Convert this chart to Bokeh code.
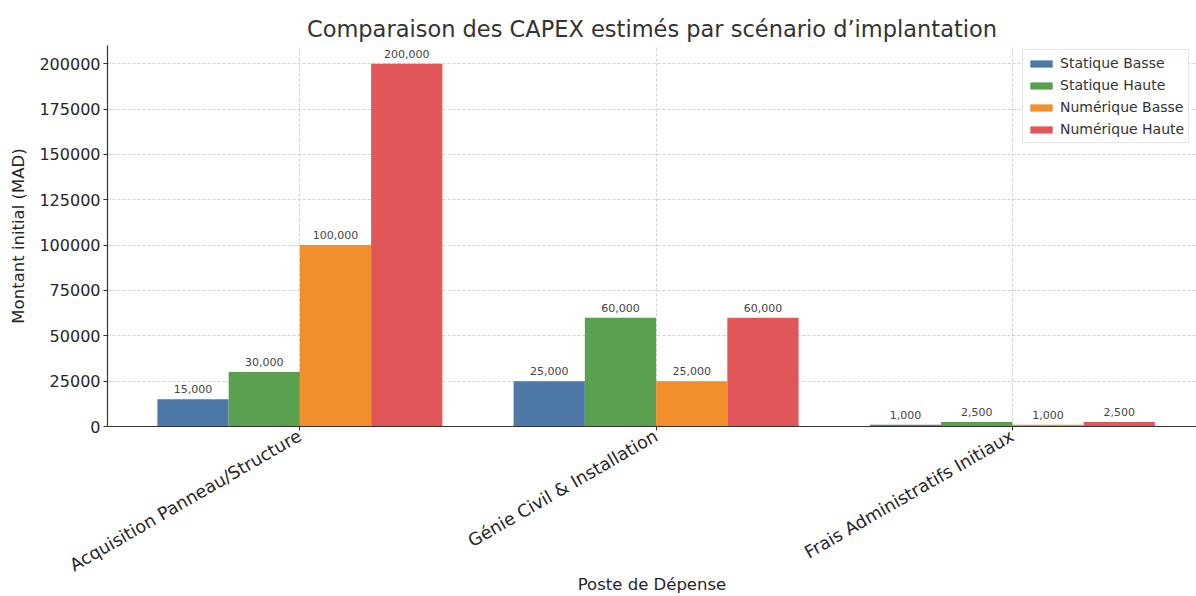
from bokeh.plotting import figure
from bokeh.models import ColumnDataSource, FixedTicker, BasicTickFormatter, Legend, LegendItem, Range1d
from bokeh.core.properties import value
from bokeh.embed import file_html
from bokeh.resources import INLINE
import math

categories = ["Acquisition Panneau/Structure", "Génie Civil & Installation", "Frais Administratifs Initiaux"]
series_names = ["Statique Basse", "Statique Haute", "Numérique Basse", "Numérique Haute"]
statique_basse = [15000, 25000, 1000]
statique_haute = [30000, 60000, 2500]
numerique_basse = [100000, 25000, 1000]
numerique_haute = [200000, 60000, 2500]
y_ticks = [0, 25000, 50000, 75000, 100000, 125000, 150000, 175000, 200000]

series_values = [statique_basse, statique_haute, numerique_basse, numerique_haute]
colors = ["#4e79a7", "#59a14f", "#f28e2b", "#e15759"]
offsets = [-0.3, -0.1, 0.1, 0.3]
bar_w = 0.2
FONT = "DejaVu Sans"

p = figure(width=1196, height=596, output_backend="svg", toolbar_location=None,
           x_range=Range1d(-0.54, 2.517), y_range=Range1d(0, 210000),
           min_border_left=107, min_border_right=0, min_border_top=45, min_border_bottom=169,
           title="Comparaison des CAPEX estimés par scénario d’implantation")
p.outline_line_color = None
p.background_fill_color = "white"
p.border_fill_color = "white"

p.title.text_font = FONT
p.title.text_font_size = "22.5px"
p.title.text_font_style = "normal"
p.title.text_color = "#333333"
p.title.align = "center"
p.title.standoff = 7

legend_items = []
for name, vals, col, off in zip(series_names, series_values, colors, offsets):
    xs = [i + off for i in range(len(categories))]
    src = ColumnDataSource(dict(x=xs, top=vals, lab=[f"{v:,}" for v in vals]))
    r = p.vbar(x="x", top="top", width=bar_w, bottom=0, source=src,
               fill_color=col, line_color=None)
    p.text(x="x", y="top", text="lab", source=src, text_align="center",
           text_baseline="bottom", y_offset=-6, text_font_size="11px",
           text_color="#444444", text_font=value(FONT))
    legend_items.append(LegendItem(label=name, renderers=[r]))

# axes
p.xaxis.ticker = FixedTicker(ticks=list(range(len(categories))))
p.xaxis.major_label_overrides = {i: c for i, c in enumerate(categories)}
p.xaxis.major_label_orientation = math.pi / 6
p.xaxis.axis_label = "Poste de Dépense"
p.yaxis.ticker = FixedTicker(ticks=y_ticks)
p.yaxis.formatter = BasicTickFormatter(use_scientific=False)
p.yaxis.axis_label = "Montant initial (MAD)"

for ax in (p.xaxis[0], p.yaxis[0]):
    ax.axis_line_color = "#333333"
    ax.axis_line_width = 1.2
    ax.major_tick_line_color = "#333333"
    ax.major_tick_out = 4
    ax.major_tick_in = 0
    ax.minor_tick_line_color = None
    ax.major_label_text_font = FONT
    ax.major_label_text_color = "#262626"
    ax.axis_label_text_font = FONT
    ax.axis_label_text_font_size = "16.5px"
    ax.axis_label_text_font_style = "normal"
    ax.axis_label_text_color = "#262626"
p.yaxis.major_label_text_font_size = "16px"
p.xaxis.major_label_text_font_size = "17.5px"
p.yaxis.major_label_standoff = 3
p.xaxis.major_label_standoff = 4
p.yaxis.axis_label_standoff = 8
p.xaxis.axis_label_standoff = -12

p.grid.grid_line_color = "#d0d0d0"
p.grid.grid_line_dash = "3 2"
p.grid.grid_line_width = 1

legend = Legend(items=legend_items, location=(915, 283), orientation="vertical")
legend.label_text_font = FONT
legend.label_text_font_size = "14px"
legend.label_text_color = "#333333"
legend.glyph_width = 28
legend.glyph_height = 9
legend.label_height = 18
legend.spacing = 4
legend.padding = 4
legend.margin = 0
legend.border_line_color = "#cccccc"
legend.border_line_width = 1
legend.background_fill_alpha = 0.9
p.add_layout(legend, "center")

open("out.html", "w").write(file_html(p, INLINE))
